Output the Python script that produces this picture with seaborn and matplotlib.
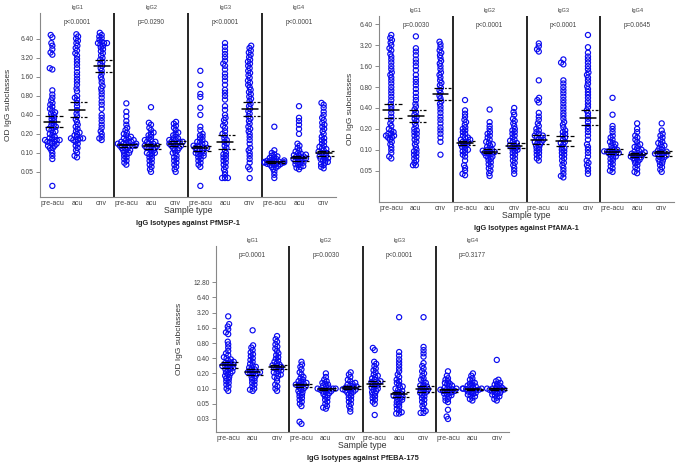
import warnings
import pandas as pd
import matplotlib.pyplot as plt
import seaborn as sns

warnings.filterwarnings('ignore')

sns.set_style('white')
plt.rcParams['font.family'] = ['Liberation Sans', 'DejaVu Sans']

samples = ['pre-acu', 'acu', 'cnv']
isotypes = ['IgG1', 'IgG2', 'IgG3', 'IgG4']

# ---- PfMSP-1 ----
msp1_g1_pre = [7.4, 6.8, 5.5, 5.0, 4.4, 3.9, 3.6, 2.2, 2.1, 0.98, 0.84, 0.75, 0.68, 0.62, 0.58, 0.54, 0.50, 0.47,
               0.44, 0.42, 0.40, 0.38, 0.36, 0.34, 0.32, 0.30, 0.28, 0.27, 0.26, 0.25, 0.24, 0.23, 0.22, 0.21, 0.20,
               0.19, 0.18, 0.17, 0.17, 0.16, 0.16, 0.16, 0.15, 0.15, 0.15, 0.14, 0.14, 0.13, 0.13, 0.12, 0.12, 0.11,
               0.10, 0.09, 0.08, 0.03]
msp1_g1_acu = [7.6, 7.0, 6.5, 6.0, 5.5, 5.0, 4.6, 4.2, 3.8, 3.5, 3.1, 2.8, 2.5, 2.2, 1.9, 1.7, 1.5, 1.35, 1.2, 1.05,
               0.95, 0.80, 0.75, 0.70, 0.62, 0.55, 0.48, 0.42, 0.38, 0.34, 0.31, 0.28, 0.26, 0.24, 0.22, 0.21, 0.20,
               0.19, 0.18, 0.17, 0.17, 0.17, 0.16, 0.16, 0.15, 0.14, 0.13, 0.12, 0.11, 0.10, 0.09, 0.085]
msp1_g1_cnv = [8.0, 7.4, 7.0, 6.6, 6.2, 5.8, 5.5, 5.5, 5.5, 5.2, 5.0, 4.7, 4.4, 4.1, 3.8, 3.5, 3.2, 3.0, 2.8, 2.6,
               2.4, 2.2, 2.0, 1.8, 1.6, 1.45, 1.3, 1.15, 1.05, 0.95, 0.85, 0.75, 0.65, 0.58, 0.50, 0.40, 0.36, 0.32,
               0.28, 0.25, 0.22, 0.20, 0.18, 0.17, 0.16]
msp1_g2_pre = [0.61, 0.45, 0.38, 0.32, 0.28, 0.25, 0.23, 0.21, 0.20, 0.19, 0.18, 0.17, 0.17, 0.16, 0.16, 0.15, 0.15,
               0.15, 0.14, 0.14, 0.14, 0.14, 0.13, 0.13, 0.13, 0.13, 0.12, 0.12, 0.12, 0.11, 0.11, 0.11, 0.10, 0.10,
               0.095, 0.09, 0.085, 0.08, 0.075, 0.07, 0.065]
msp1_g2_acu = [0.53, 0.30, 0.28, 0.25, 0.23, 0.21, 0.20, 0.19, 0.18, 0.17, 0.16, 0.16, 0.15, 0.15, 0.14, 0.14, 0.13,
               0.13, 0.13, 0.12, 0.12, 0.12, 0.11, 0.11, 0.10, 0.10, 0.10, 0.095, 0.09, 0.085, 0.08, 0.075, 0.07,
               0.065, 0.06, 0.055, 0.05]
msp1_g2_cnv = [0.31, 0.29, 0.27, 0.25, 0.23, 0.21, 0.20, 0.19, 0.18, 0.17, 0.17, 0.16, 0.16, 0.15, 0.15, 0.15, 0.14,
               0.14, 0.14, 0.13, 0.13, 0.13, 0.12, 0.12, 0.11, 0.11, 0.10, 0.10, 0.09, 0.085, 0.08, 0.075, 0.07,
               0.065, 0.06, 0.055, 0.05]
msp1_g3_pre = [2.0, 1.2, 0.86, 0.77, 0.52, 0.40, 0.26, 0.23, 0.20, 0.19, 0.18, 0.17, 0.16, 0.15, 0.15, 0.14, 0.14,
               0.13, 0.13, 0.13, 0.12, 0.12, 0.12, 0.11, 0.11, 0.11, 0.10, 0.10, 0.10, 0.095, 0.09, 0.09, 0.085,
               0.08, 0.075, 0.07, 0.065, 0.06, 0.03]
msp1_g3_acu = [5.5, 4.8, 4.2, 3.7, 3.3, 2.9, 2.6, 2.4, 2.1, 1.8, 1.6, 1.4, 1.2, 1.0, 0.9, 0.8, 0.7, 0.55, 0.48, 0.40,
               0.36, 0.33, 0.30, 0.27, 0.25, 0.22, 0.20, 0.19, 0.17, 0.16, 0.15, 0.14, 0.13, 0.12, 0.11, 0.10,
               0.095, 0.09, 0.085, 0.08, 0.075, 0.07, 0.065, 0.06, 0.055, 0.05, 0.045, 0.04, 0.04, 0.04]
msp1_g3_cnv = [5.0, 4.6, 4.2, 3.9, 3.6, 3.3, 3.0, 2.8, 2.6, 2.4, 2.2, 2.0, 1.85, 1.7, 1.55, 1.4, 1.3, 1.2, 1.1, 1.0,
               0.92, 0.85, 0.78, 0.72, 0.66, 0.60, 0.55, 0.50, 0.46, 0.42, 0.38, 0.35, 0.32, 0.29, 0.26, 0.24,
               0.22, 0.20, 0.18, 0.16, 0.14, 0.12, 0.11, 0.10, 0.09, 0.08, 0.07, 0.06, 0.055, 0.04]
msp1_g4_pre = [0.26, 0.11, 0.10, 0.095, 0.09, 0.088, 0.085, 0.083, 0.08, 0.078, 0.076, 0.075, 0.074, 0.073, 0.072,
               0.072, 0.071, 0.07, 0.07, 0.069, 0.068, 0.067, 0.066, 0.065, 0.064, 0.062, 0.06, 0.058, 0.055,
               0.05, 0.045, 0.04]
msp1_g4_acu = [0.55, 0.36, 0.32, 0.28, 0.24, 0.20, 0.14, 0.13, 0.12, 0.11, 0.105, 0.10, 0.097, 0.094, 0.092, 0.09,
               0.088, 0.086, 0.084, 0.082, 0.08, 0.08, 0.078, 0.076, 0.074, 0.072, 0.07, 0.068, 0.066, 0.064,
               0.062, 0.06, 0.058, 0.055]
msp1_g4_cnv = [0.62, 0.58, 0.52, 0.45, 0.40, 0.36, 0.33, 0.30, 0.28, 0.26, 0.24, 0.22, 0.20, 0.18, 0.17, 0.16, 0.15,
               0.14, 0.13, 0.125, 0.12, 0.115, 0.11, 0.105, 0.10, 0.10, 0.095, 0.09, 0.088, 0.085, 0.082, 0.08,
               0.078, 0.075, 0.072, 0.07, 0.067, 0.064, 0.06, 0.057]
msp1_mean = [0.31, 0.47, 2.4, 0.133, 0.13, 0.14, 0.12, 0.15, 0.50, 0.073, 0.082, 0.098]
msp1_hi = [0.38, 0.63, 3.0, 0.14, 0.14, 0.154, 0.13, 0.19, 0.65, 0.075, 0.089, 0.108]
msp1_lo = [0.26, 0.37, 1.9, 0.125, 0.117, 0.13, 0.107, 0.117, 0.38, 0.07, 0.075, 0.089]
msp1_p = ['p<0.0001', 'p=0.0290', 'p<0.0001', 'p<0.0001']

# ---- PfAMA-1 ----
ama1_g1_pre = [4.5, 4.1, 3.8, 3.5, 3.2, 2.9, 2.7, 2.4, 2.2, 2.0, 1.8, 1.6, 1.45, 1.3, 1.2, 1.1, 1.0, 0.9, 0.8, 0.72,
               0.65, 0.58, 0.52, 0.46, 0.42, 0.38, 0.34, 0.30, 0.27, 0.24, 0.22, 0.20, 0.19, 0.18, 0.17, 0.17,
               0.16, 0.16, 0.15, 0.15, 0.14, 0.13, 0.12, 0.11, 0.10, 0.09, 0.08, 0.075]
ama1_g1_acu = [4.3, 2.9, 2.6, 2.3, 2.0, 1.8, 1.6, 1.4, 1.2, 1.05, 0.95, 0.85, 0.75, 0.66, 0.58, 0.52, 0.46, 0.42,
               0.38, 0.35, 0.32, 0.30, 0.28, 0.26, 0.24, 0.22, 0.20, 0.19, 0.18, 0.17, 0.16, 0.15, 0.14, 0.13,
               0.12, 0.11, 0.10, 0.095, 0.09, 0.085, 0.08, 0.075, 0.07, 0.065, 0.06, 0.06]
ama1_g1_cnv = [3.6, 3.3, 3.0, 2.7, 2.5, 2.3, 2.1, 1.9, 1.75, 1.6, 1.45, 1.3, 1.2, 1.1, 1.0, 0.92, 0.85, 0.78, 0.72,
               0.66, 0.60, 0.55, 0.50, 0.46, 0.42, 0.38, 0.34, 0.30, 0.27, 0.24, 0.21, 0.19, 0.17, 0.15, 0.13,
               0.085]
ama1_g2_pre = [0.52, 0.37, 0.33, 0.30, 0.27, 0.25, 0.23, 0.21, 0.20, 0.19, 0.18, 0.17, 0.16, 0.15, 0.15, 0.14, 0.14,
               0.13, 0.13, 0.13, 0.12, 0.12, 0.12, 0.11, 0.11, 0.10, 0.10, 0.095, 0.09, 0.085, 0.08, 0.07, 0.06,
               0.055, 0.05, 0.045, 0.043]
ama1_g2_acu = [0.38, 0.25, 0.22, 0.20, 0.18, 0.17, 0.16, 0.15, 0.14, 0.13, 0.125, 0.12, 0.115, 0.11, 0.105, 0.10,
               0.10, 0.097, 0.095, 0.093, 0.09, 0.09, 0.088, 0.085, 0.082, 0.08, 0.077, 0.074, 0.07, 0.066,
               0.062, 0.058, 0.054, 0.05, 0.046, 0.042]
ama1_g2_cnv = [0.40, 0.35, 0.32, 0.28, 0.26, 0.24, 0.22, 0.20, 0.19, 0.18, 0.17, 0.16, 0.15, 0.14, 0.135, 0.13,
               0.125, 0.12, 0.115, 0.11, 0.11, 0.105, 0.10, 0.10, 0.095, 0.09, 0.085, 0.08, 0.075, 0.07, 0.065,
               0.06, 0.055, 0.05, 0.045]
ama1_g3_pre = [3.4, 3.1, 2.8, 2.6, 1.0, 0.56, 0.52, 0.48, 0.34, 0.30, 0.27, 0.24, 0.22, 0.20, 0.19, 0.18, 0.17,
               0.16, 0.16, 0.15, 0.15, 0.14, 0.14, 0.13, 0.13, 0.125, 0.12, 0.115, 0.11, 0.105, 0.10, 0.095, 0.09,
               0.085, 0.08, 0.075, 0.07]
ama1_g3_acu = [2.0, 1.8, 1.7, 1.0, 0.9, 0.8, 0.72, 0.65, 0.58, 0.52, 0.47, 0.42, 0.38, 0.34, 0.31, 0.28, 0.25, 0.23,
               0.21, 0.19, 0.18, 0.17, 0.16, 0.15, 0.14, 0.13, 0.125, 0.12, 0.11, 0.105, 0.10, 0.095, 0.09, 0.085,
               0.08, 0.075, 0.07, 0.065, 0.06, 0.055, 0.05, 0.045, 0.042, 0.04]
ama1_g3_cnv = [4.5, 3.0, 2.5, 2.2, 2.0, 1.8, 1.6, 1.45, 1.3, 1.2, 1.1, 1.0, 0.9, 0.82, 0.75, 0.68, 0.62, 0.56, 0.50,
               0.45, 0.41, 0.37, 0.34, 0.31, 0.28, 0.25, 0.22, 0.20, 0.18, 0.16, 0.14, 0.12, 0.11, 0.10, 0.09,
               0.08, 0.07, 0.065, 0.06, 0.055, 0.05, 0.045]
ama1_g4_pre = [0.56, 0.32, 0.22, 0.20, 0.18, 0.16, 0.15, 0.14, 0.13, 0.125, 0.12, 0.115, 0.11, 0.105, 0.10, 0.10,
               0.097, 0.095, 0.094, 0.093, 0.09, 0.09, 0.088, 0.085, 0.082, 0.08, 0.077, 0.074, 0.07, 0.066,
               0.062, 0.058, 0.054, 0.05, 0.048]
ama1_g4_acu = [0.24, 0.20, 0.18, 0.16, 0.15, 0.14, 0.13, 0.12, 0.115, 0.11, 0.105, 0.10, 0.097, 0.094, 0.092, 0.09,
               0.088, 0.086, 0.085, 0.084, 0.082, 0.08, 0.078, 0.076, 0.074, 0.072, 0.07, 0.067, 0.064, 0.06,
               0.056, 0.052, 0.048, 0.046]
ama1_g4_cnv = [0.24, 0.19, 0.17, 0.16, 0.15, 0.14, 0.13, 0.125, 0.12, 0.115, 0.11, 0.105, 0.10, 0.097, 0.094,
               0.092, 0.09, 0.088, 0.087, 0.085, 0.083, 0.08, 0.078, 0.076, 0.073, 0.07, 0.067, 0.064, 0.06,
               0.056, 0.052, 0.048]
ama1_mean = [0.37, 0.31, 0.63, 0.127, 0.094, 0.113, 0.138, 0.135, 0.29, 0.094, 0.084, 0.089]
ama1_hi = [0.46, 0.37, 0.78, 0.135, 0.101, 0.124, 0.164, 0.158, 0.37, 0.101, 0.089, 0.096]
ama1_lo = [0.29, 0.25, 0.52, 0.116, 0.089, 0.105, 0.121, 0.113, 0.23, 0.087, 0.08, 0.082]
ama1_p = ['p=0.0030', 'p<0.0001', 'p<0.0001', 'p=0.0645']

# ---- PfEBA-175 ----
eba_g1_pre = [2.7, 1.9, 1.7, 1.5, 1.3, 1.2, 0.85, 0.75, 0.65, 0.56, 0.50, 0.46, 0.42, 0.40, 0.38, 0.36, 0.34, 0.33,
              0.32, 0.31, 0.30, 0.29, 0.28, 0.28, 0.27, 0.26, 0.25, 0.24, 0.23, 0.22, 0.21, 0.20, 0.19, 0.18, 0.17,
              0.16, 0.15, 0.14, 0.13, 0.12, 0.11, 0.10, 0.09]
eba_g1_acu = [1.43, 0.72, 0.65, 0.58, 0.52, 0.48, 0.44, 0.40, 0.37, 0.34, 0.31, 0.29, 0.27, 0.26, 0.25, 0.24, 0.23,
              0.22, 0.21, 0.21, 0.20, 0.20, 0.19, 0.18, 0.17, 0.16, 0.15, 0.14, 0.13, 0.12, 0.11, 0.10, 0.095, 0.09]
eba_g1_cnv = [1.1, 0.95, 0.85, 0.75, 0.68, 0.62, 0.56, 0.50, 0.46, 0.42, 0.39, 0.36, 0.34, 0.32, 0.30, 0.29, 0.28,
              0.27, 0.26, 0.25, 0.24, 0.23, 0.22, 0.21, 0.20, 0.19, 0.18, 0.17, 0.16, 0.14, 0.12, 0.11, 0.10, 0.09]
eba_g2_pre = [0.34, 0.30, 0.27, 0.24, 0.21, 0.19, 0.17, 0.16, 0.15, 0.14, 0.135, 0.13, 0.125, 0.12, 0.12, 0.115,
              0.11, 0.105, 0.10, 0.095, 0.09, 0.085, 0.08, 0.075, 0.07, 0.065, 0.06, 0.055, 0.05, 0.045, 0.022, 0.02]
eba_g2_acu = [0.20, 0.17, 0.15, 0.14, 0.13, 0.125, 0.12, 0.115, 0.11, 0.105, 0.10, 0.10, 0.10, 0.097, 0.095, 0.093,
              0.09, 0.088, 0.085, 0.082, 0.078, 0.074, 0.07, 0.065, 0.06, 0.055, 0.05, 0.045, 0.042, 0.04]
eba_g2_cnv = [0.21, 0.19, 0.17, 0.15, 0.14, 0.13, 0.125, 0.12, 0.115, 0.11, 0.11, 0.105, 0.10, 0.10, 0.097, 0.095,
              0.092, 0.09, 0.087, 0.084, 0.08, 0.075, 0.07, 0.065, 0.06, 0.055, 0.05, 0.045, 0.04, 0.035]
eba_g3_pre = [0.64, 0.58, 0.34, 0.31, 0.28, 0.25, 0.23, 0.21, 0.19, 0.18, 0.17, 0.16, 0.15, 0.14, 0.135, 0.13, 0.125,
              0.12, 0.115, 0.11, 0.105, 0.10, 0.095, 0.09, 0.085, 0.08, 0.075, 0.07, 0.065, 0.06, 0.055, 0.05, 0.03]
eba_g3_acu = [2.6, 0.53, 0.45, 0.38, 0.33, 0.29, 0.25, 0.22, 0.19, 0.17, 0.15, 0.14, 0.13, 0.12, 0.11, 0.105, 0.10,
              0.095, 0.09, 0.085, 0.08, 0.078, 0.075, 0.072, 0.07, 0.068, 0.065, 0.062, 0.06, 0.057, 0.054, 0.05,
              0.047, 0.044, 0.04, 0.037, 0.034, 0.032, 0.032]
eba_g3_cnv = [2.6, 0.67, 0.58, 0.50, 0.43, 0.32, 0.28, 0.25, 0.22, 0.20, 0.18, 0.16, 0.15, 0.14, 0.13, 0.12, 0.115,
              0.11, 0.105, 0.10, 0.097, 0.094, 0.09, 0.087, 0.083, 0.08, 0.075, 0.07, 0.065, 0.06, 0.055, 0.05,
              0.045, 0.04, 0.036, 0.033, 0.033]
eba_g4_pre = [0.22, 0.18, 0.16, 0.15, 0.14, 0.13, 0.125, 0.12, 0.115, 0.11, 0.105, 0.10, 0.10, 0.097, 0.095, 0.093,
              0.09, 0.09, 0.088, 0.085, 0.082, 0.08, 0.077, 0.074, 0.07, 0.066, 0.062, 0.058, 0.054, 0.038, 0.028,
              0.025]
eba_g4_acu = [0.20, 0.18, 0.16, 0.15, 0.14, 0.13, 0.125, 0.12, 0.115, 0.11, 0.11, 0.105, 0.10, 0.10, 0.10, 0.098,
              0.097, 0.095, 0.093, 0.09, 0.088, 0.085, 0.082, 0.079, 0.076, 0.073, 0.07, 0.066, 0.062, 0.058]
eba_g4_cnv = [0.37, 0.15, 0.14, 0.13, 0.125, 0.12, 0.115, 0.11, 0.105, 0.10, 0.10, 0.10, 0.098, 0.096, 0.094, 0.092,
              0.09, 0.088, 0.085, 0.082, 0.079, 0.076, 0.073, 0.07, 0.066, 0.062, 0.058]
eba_mean = [0.30, 0.215, 0.27, 0.117, 0.097, 0.105, 0.126, 0.077, 0.10, 0.093, 0.097, 0.097]
eba_hi = [0.34, 0.24, 0.30, 0.126, 0.103, 0.112, 0.141, 0.084, 0.114, 0.10, 0.10, 0.102]
eba_lo = [0.26, 0.19, 0.24, 0.109, 0.093, 0.099, 0.112, 0.069, 0.087, 0.087, 0.094, 0.093]
eba_p = ['p=0.0001', 'p=0.0030', 'p<0.0001', 'p=0.3177']

ticks_8 = [0.05, 0.10, 0.20, 0.40, 0.80, 1.60, 3.20, 6.40]
ticks_10 = [0.025, 0.05, 0.10, 0.20, 0.40, 0.80, 1.60, 3.20, 6.40, 12.80]

W, H = 685, 470
fig = plt.figure(figsize=(W / 100, H / 100), dpi=100)
axes = []


def draw_panel(box, cols, means, his, los, pvals, ylim, ticks, title, ylab_off):
    left, top, right, bottom = box
    ax = fig.add_axes([left / W, 1 - bottom / H, (right - left) / W, (bottom - top) / H])
    ax.set_yscale('log', base=2)
    rows = []
    for i, vals in enumerate(cols):
        for v in vals:
            rows.append((str(i), v))
    df = pd.DataFrame(rows, columns=['col', 'od'])
    order = [str(i) for i in range(12)]
    # swarm with a small footprint so the circles may overlap like a dot plot
    sns.swarmplot(data=df, x='col', y='od', order=order, ax=ax, size=2.0, color='#0000ee')

    for i in range(12):
        ax.plot([i - 0.32, i + 0.32], [means[i], means[i]], color='black', lw=1.1, zorder=5)
        for v in (his[i], los[i]):
            ax.plot([i - 0.28, i + 0.42], [v, v], color='black', lw=0.9, zorder=5, dashes=(7, 1.5, 1.3, 1.5))

    ax.set_xlim(-0.5, 11.5)
    ax.set_ylim(*ylim)
    ax.set_yticks(ticks)
    ax.set_yticklabels(['%.2f' % t for t in ticks])
    ax.yaxis.set_minor_locator(plt.NullLocator())
    ax.set_xticks(range(12))
    ax.set_xticklabels(samples * 4)
    ax.tick_params(axis='x', length=0, pad=2, labelsize=5, labelcolor='#444444')
    ax.tick_params(axis='y', length=3, width=0.6, color='#777777', pad=1.5, labelsize=4.8,
                   labelcolor='#444444', left=True)
    ax.set_xlabel('')
    ax.set_ylabel('OD IgG subclasses', fontsize=6, color='#333333')
    ax.yaxis.set_label_coords(-ylab_off / (right - left), 0.5)
    for s in ['top', 'right']:
        ax.spines[s].set_visible(False)
    for s in ['left', 'bottom']:
        ax.spines[s].set_color('#888888')
        ax.spines[s].set_linewidth(0.8)

    for x in (2.5, 5.5, 8.5):
        ax.axvline(x, color='black', lw=1.2)

    for g in range(4):
        ax.annotate(isotypes[g], xy=(g * 3 + 1, 1), xycoords=('data', 'axes fraction'),
                    xytext=(0, 2), textcoords='offset points', ha='center', va='bottom',
                    fontsize=4, color='#444444')
        ax.annotate(pvals[g], xy=(g * 3 + 1, 1), xycoords=('data', 'axes fraction'),
                    xytext=(0, -7), textcoords='offset points', ha='center', va='center',
                    fontsize=4.7, color='#444444')

    ax.annotate('Sample type', xy=(0.5, 0), xycoords='axes fraction', xytext=(0, -10),
                textcoords='offset points', ha='center', va='center', fontsize=6.3, color='#333333')
    ax.annotate(title, xy=(0.5, 0), xycoords='axes fraction', xytext=(0, -19),
                textcoords='offset points', ha='center', va='center', fontsize=5.3,
                fontweight='bold', color='#222222')
    axes.append(ax)


draw_panel((40, 13, 336, 197),
           [msp1_g1_pre, msp1_g1_acu, msp1_g1_cnv, msp1_g2_pre, msp1_g2_acu, msp1_g2_cnv,
            msp1_g3_pre, msp1_g3_acu, msp1_g3_cnv, msp1_g4_pre, msp1_g4_acu, msp1_g4_cnv],
           msp1_mean, msp1_hi, msp1_lo, msp1_p, (0.020, 16.5), ticks_8,
           'IgG Isotypes against PfMSP-1', 28)

draw_panel((379, 16, 674, 202),
           [ama1_g1_pre, ama1_g1_acu, ama1_g1_cnv, ama1_g2_pre, ama1_g2_acu, ama1_g2_cnv,
            ama1_g3_pre, ama1_g3_acu, ama1_g3_cnv, ama1_g4_pre, ama1_g4_acu, ama1_g4_cnv],
           ama1_mean, ama1_hi, ama1_lo, ama1_p, (0.0177, 8.45), ticks_8,
           'IgG Isotypes against PfAMA-1', 25)

draw_panel((216, 246, 509, 432),
           [eba_g1_pre, eba_g1_acu, eba_g1_cnv, eba_g2_pre, eba_g2_acu, eba_g2_cnv,
            eba_g3_pre, eba_g3_acu, eba_g3_cnv, eba_g4_pre, eba_g4_acu, eba_g4_cnv],
           eba_mean, eba_hi, eba_lo, eba_p, (0.0138, 67), ticks_10,
           'IgG Isotypes against PfEBA-175', 33)

# lay the swarm out once, then freeze it and draw the circles at full size
fig.canvas.draw()
for ax in axes:
    for coll in ax.collections:
        if 'draw' in coll.__dict__:
            del coll.draw
        coll.set_sizes([3.7 ** 2])
        coll.set_facecolor('none')
        coll.set_edgecolor('#0a0af0')
        coll.set_linewidth(0.85)

fig.savefig('out.png', dpi=100, facecolor='white')
